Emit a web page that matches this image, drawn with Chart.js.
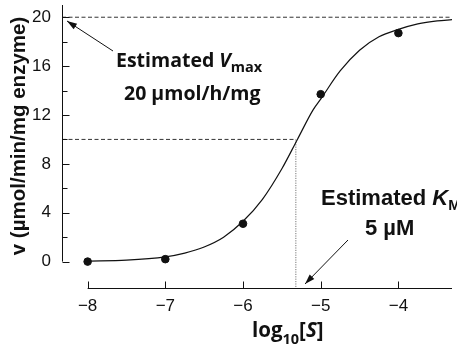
<!DOCTYPE html>
<html>
<head>
<meta charset="utf-8">
<script src="https://cdn.jsdelivr.net/npm/chart.js@4/dist/chart.umd.min.js"></script>
<style>
  body { margin: 0; background: #fff; }
  #wrap { width: 457px; height: 349px; }
</style>
</head>
<body>
<div id="wrap"><canvas id="kinetics" width="457" height="349"></canvas></div>
<script>
// measured points, log10[S] vs v
const logS = [-8, -7, -6, -5, -4];
const rate = [0.0, 0.2, 3.1, 13.7, 18.7];

// fitted curve
const curveX = [-8, -7.5, -7, -6.75, -6.5, -6.25, -6, -5.75, -5.5, -5.3, -5.1, -5, -4.75, -4.5, -4.25, -4, -3.75, -3.5, -3.31];
const curveY = [0.04, 0.12, 0.39, 0.7, 1.2, 2.0, 3.3, 5.1, 7.6, 10.0, 12.4, 13.3, 15.6, 17.3, 18.4, 19.0, 19.45, 19.7, 19.8];

const vmax = 20;
const logKm = -5.32;
const xTicks = [-8, -7, -6, -5, -4];
const yTicks = [0, 2, 4, 6, 8, 10, 12, 14, 16, 18, 20];

const X_MIN = -8.33, X_MAX = -3.31, Y_MIN = -2.16, Y_MAX = 21;

function arrow(ctx, x1, y1, x2, y2) {
    ctx.beginPath();
    ctx.moveTo(x1, y1);
    ctx.lineTo(x2, y2);
    ctx.stroke();
    const a = Math.atan2(y2 - y1, x2 - x1);
    const len = 10, w = 3.2;
    ctx.beginPath();
    ctx.moveTo(x2, y2);
    ctx.lineTo(x2 - len * Math.cos(a) + w * Math.sin(a), y2 - len * Math.sin(a) - w * Math.cos(a));
    ctx.lineTo(x2 - len * Math.cos(a) - w * Math.sin(a), y2 - len * Math.sin(a) + w * Math.cos(a));
    ctx.closePath();
    ctx.fill();
}

const decorations = {
    id: 'decorations',
    afterDraw(chart) {
        const ctx = chart.ctx;
        const xs = chart.scales.x, ys = chart.scales.y;
        const area = chart.chartArea;
        ctx.save();
        ctx.strokeStyle = '#111';
        ctx.fillStyle = '#111';
        ctx.lineWidth = 1;

        // y axis line (0 .. top), ticks pointing inward
        const yl = Math.round(area.left) + 0.5;
        ctx.beginPath();
        ctx.moveTo(yl, ys.getPixelForValue(0));
        ctx.lineTo(yl, area.top);
        ctx.stroke();
        yTicks.forEach(t => {
            const py = Math.round(ys.getPixelForValue(t)) + 0.5;
            ctx.beginPath();
            ctx.moveTo(yl, py);
            ctx.lineTo(yl + (t % 4 === 0 ? 7 : 5), py);
            ctx.stroke();
        });
        // x axis line starting at -8
        const xb = Math.round(area.bottom) + 0.5;
        ctx.beginPath();
        ctx.moveTo(xs.getPixelForValue(-8), xb);
        ctx.lineTo(area.right, xb);
        ctx.stroke();
        xTicks.forEach(t => {
            const px = Math.round(xs.getPixelForValue(t)) + 0.5;
            ctx.beginPath();
            ctx.moveTo(px, xb);
            ctx.lineTo(px, xb - 7);
            ctx.stroke();
        });

        // y title
        ctx.save();
        ctx.translate(19, 136);
        ctx.rotate(-Math.PI / 2);
        ctx.font = 'bold 20.5px "Liberation Sans", Arial, sans-serif';
        ctx.textAlign = 'center';
        ctx.textBaseline = 'middle';
        ctx.fillText('v (\u00b5mol/min/mg enzyme)', 0, 0);
        ctx.restore();

        // x title: log10[S]
        ctx.textBaseline = 'alphabetic';
        ctx.textAlign = 'left';
        let x = 252;
        ctx.font = 'bold 20.5px "Open Sans", sans-serif';
        ctx.fillText('log', x, 337);
        x += ctx.measureText('log').width;
        ctx.font = 'bold 14.5px "Open Sans", sans-serif';
        ctx.fillText('10', x, 344);
        x += ctx.measureText('10').width;
        ctx.font = 'bold 20.5px "Open Sans", sans-serif';
        ctx.fillText('[', x, 337);
        x += ctx.measureText('[').width;
        ctx.font = 'italic bold 20.5px "Open Sans", sans-serif';
        ctx.fillText('S', x, 337);
        x += ctx.measureText('S').width;
        ctx.font = 'bold 20.5px "Open Sans", sans-serif';
        ctx.fillText(']', x, 337);

        // Vmax label
        x = 116;
        ctx.font = 'bold 19.5px "Open Sans", sans-serif';
        ctx.fillText('Estimated ', x, 67);
        x += ctx.measureText('Estimated ').width;
        ctx.font = 'italic bold 19.5px "Open Sans", sans-serif';
        ctx.fillText('V', x, 67);
        x += ctx.measureText('V').width;
        ctx.font = 'bold 14.5px "Open Sans", sans-serif';
        ctx.fillText('max', x, 72);
        ctx.font = 'bold 19.5px "Open Sans", sans-serif';
        ctx.fillText('20 \u00b5mol/h/mg', 124, 100);

        // Km label
        x = 321;
        ctx.font = 'bold 22px "Liberation Sans", Arial, sans-serif';
        ctx.fillText('Estimated ', x, 205);
        x += ctx.measureText('Estimated ').width;
        ctx.font = 'italic bold 22px "Liberation Sans", Arial, sans-serif';
        ctx.fillText('K', x, 205);
        x += ctx.measureText('K').width;
        ctx.font = 'bold 15px "Liberation Sans", Arial, sans-serif';
        ctx.fillText('M', x, 210);
        ctx.font = 'bold 22px "Liberation Sans", Arial, sans-serif';
        ctx.fillText('5 \u00b5M', 365, 235);

        // arrows
        arrow(ctx, 113, 51, 67, 21);
        arrow(ctx, 348, 240, 305, 284);
        ctx.restore();
    }
};

new Chart(document.getElementById('kinetics').getContext('2d'), {
    type: 'scatter',
    data: {
        datasets: [
            {
                label: 'fit',
                data: curveX.map((x, i) => ({ x: x, y: curveY[i] })),
                showLine: true,
                borderColor: '#111',
                borderWidth: 1.2,
                pointRadius: 0,
                cubicInterpolationMode: 'monotone',
                fill: false
            },
            {
                label: 'measured',
                data: logS.map((x, i) => ({ x: x, y: rate[i] })),
                backgroundColor: '#111',
                borderColor: '#111',
                pointRadius: 3.8
            },
            {
                label: 'Vmax',
                data: [{ x: X_MIN, y: vmax }, { x: X_MAX, y: vmax }],
                showLine: true,
                borderColor: '#333',
                borderWidth: 1,
                borderDash: [4, 2.5],
                pointRadius: 0
            },
            {
                label: 'half Vmax',
                data: [{ x: X_MIN, y: vmax / 2 }, { x: logKm, y: vmax / 2 }, { x: logKm, y: Y_MIN }],
                showLine: true,
                borderColor: '#333',
                borderWidth: 1,
                borderDash: [4, 2.5],
                pointRadius: 0,
                segment: {
                    borderDash: c => c.p0DataIndex === 1 ? [1.2, 1.2] : [4, 2.5],
                    borderColor: c => c.p0DataIndex === 1 ? '#777' : '#333'
                }
            }
        ]
    },
    options: {
        responsive: false,
        animation: false,
        layout: { padding: { top: 3, right: 0, left: 0, bottom: 0 } },
        plugins: { legend: { display: false }, tooltip: { enabled: false } },
        scales: {
            x: {
                type: 'linear',
                min: X_MIN,
                max: X_MAX,
                afterBuildTicks: s => { s.ticks = xTicks.map(v => ({ value: v })); },
                afterFit: s => { s.height = 61; s.paddingLeft = 0; s.paddingRight = 0; },
                grid: { display: false },
                border: { display: false },
                ticks: {
                    color: '#111',
                    padding: 0,
                    font: { family: '"Liberation Sans", Arial, sans-serif', size: 17 },
                    callback: v => '\u2212' + Math.abs(v)
                }
            },
            y: {
                type: 'linear',
                min: Y_MIN,
                max: Y_MAX,
                afterBuildTicks: s => { s.ticks = yTicks.map(v => ({ value: v })); },
                afterFit: s => { s.width = 62; s.paddingTop = 0; s.paddingBottom = 0; },
                grid: { display: false },
                border: { display: false },
                ticks: {
                    color: '#111',
                    padding: 3,
                    font: { family: '"Liberation Sans", Arial, sans-serif', size: 17 },
                    callback: v => v % 4 === 0 ? String(v) : ''
                }
            }
        }
    },
    plugins: [decorations]
});
</script>
</body>
</html>
